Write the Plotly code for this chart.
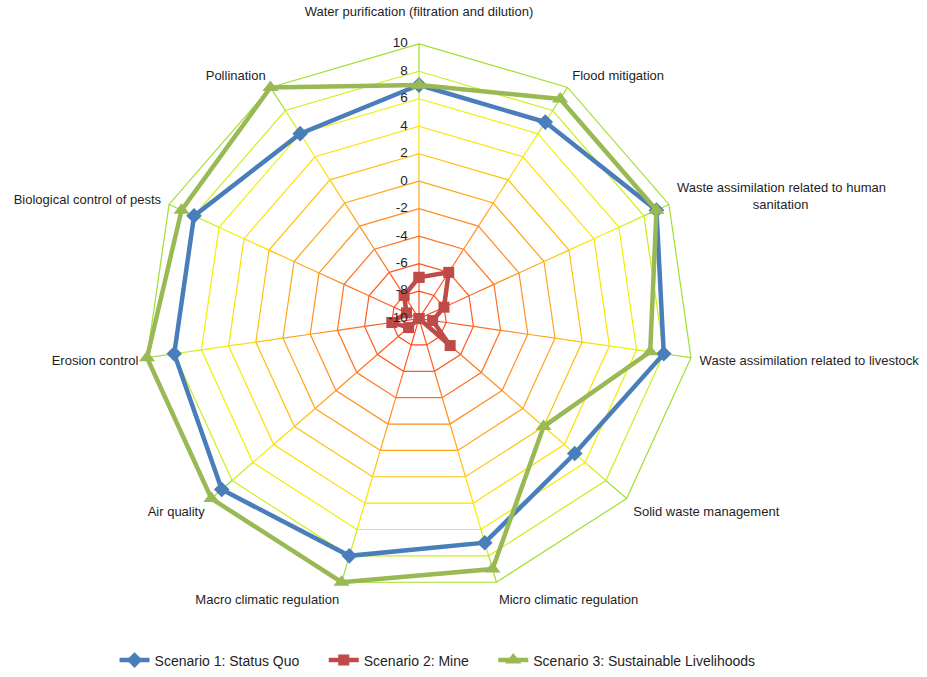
import plotly.graph_objects as go

NBSP = "\u00a0"

# Ecosystem services assessed for each scenario
categories = [
    "Water purification (filtration and dilution)",
    "Flood mitigation",
    "Waste assimilation related to human sanitation",
    "Waste assimilation related to livestock",
    "Solid waste management",
    "Micro climatic regulation",
    "Macro climatic regulation",
    "Air quality",
    "Erosion control",
    "Biological control of pests",
    "Pollination",
]
category_labels = [
    "Water purification (filtration and dilution)<br>" + NBSP,
    "Flood mitigation",
    "Waste assimilation related to human<br>" + NBSP * 21 + "sanitation",
    "Waste assimilation related to livestock",
    "Solid waste management",
    "Micro climatic regulation",
    "Macro climatic regulation",
    "Air quality",
    "Erosion control",
    "Biological control of pests",
    "Pollination",
]

status_quo = [7, 7, 9, 8, 5, 7, 8, 9, 8, 8, 6]
mine = [-7, -6, -8, -9, -7, -10, -10, -9, -8, -9, -8]
sustainable = [7, 9, 9, 7, 2, 9, 10, 10, 10, 9, 10]

radial_ticks = [-10, -8, -6, -4, -2, 0, 2, 4, 6, 8, 10]

# Grid colours run from red at the centre to yellow-green at the rim
level_colors = {
    -8: "#FF4A1C",
    -6: "#FF5B1E",
    -4: "#FF7420",
    -2: "#FF8F1F",
    0: "#FFA51A",
    2: "#FFC20E",
    4: "#FFDF00",
    6: "#F0F000",
    8: "#CDEE1C",
    10: "#A0DF2E",
}

TEXT = "#1E1E1E"

fig = go.Figure()

closed = categories + [categories[0]]

# Polygon rings at each radial tick
for level in radial_ticks[1:]:
    fig.add_trace(go.Scatterpolar(
        r=[level] * len(closed), theta=closed, mode="lines", cliponaxis=True,
        line=dict(color=level_colors[level], width=1.2),
        hoverinfo="skip", showlegend=False,
    ))

# Spokes, split into segments that take the colour of their outer ring
for lo, hi in zip(radial_ticks[:-1], radial_ticks[1:]):
    rs, ts = [], []
    for c in categories:
        rs += [lo, hi, None]
        ts += [c, c, c]
    fig.add_trace(go.Scatterpolar(
        r=rs, theta=ts, mode="lines", connectgaps=False, cliponaxis=True,
        line=dict(color=level_colors[hi], width=1.2),
        hoverinfo="skip", showlegend=False,
    ))

series = [
    ("Scenario 1: Status Quo" + NBSP * 5, status_quo, "#4A7EBB", "diamond", 12),
    ("Scenario 2: Mine" + NBSP * 5, mine, "#BE4B48", "square", 11),
    ("Scenario 3: Sustainable Livelihoods", sustainable, "#98B954", "triangle-up", 14),
]
for name, vals, color, symbol, size in series:
    fig.add_trace(go.Scatterpolar(
        r=vals + [vals[0]], theta=closed, name=name, mode="lines+markers",
        cliponaxis=True,
        line=dict(color=color, width=4.5),
        marker=dict(symbol=symbol, size=size, color=color),
    ))

# Radial tick labels along the upper spoke, to its left
fig.add_trace(go.Scatterpolar(
    r=radial_ticks, theta=[categories[0]] * len(radial_ticks),
    mode="text", text=[f"{v}{NBSP * 3}" for v in radial_ticks],
    textposition="middle left", cliponaxis=True,
    textfont=dict(size=13.5, color=TEXT),
    hoverinfo="skip", showlegend=False,
))

# Radial scale: value 10 sits at R pixels; the axis extends a little
# further so that markers on the outer ring are not clipped.
R = 276
r_max = 10.6
R_ext = R * (r_max + 10) / 20
cx, cy = 419, 320
W, H = 927, 677

fig.update_layout(
    width=W, height=H,
    margin=dict(l=0, r=0, t=0, b=0),
    paper_bgcolor="white",
    font=dict(family="Liberation Sans, Arial, sans-serif", size=13, color=TEXT),
    polar=dict(
        domain=dict(x=[(cx - R_ext) / W, (cx + R_ext) / W],
                    y=[(H - cy - R_ext) / H, (H - cy + R_ext) / H]),
        gridshape="circular",
        bgcolor="white",
        angularaxis=dict(
            type="category", categoryorder="array", categoryarray=categories,
            tickvals=categories, ticktext=category_labels,
            direction="clockwise", rotation=90,
            showgrid=False, showline=False, ticks="",
            tickfont=dict(size=13, color=TEXT),
        ),
        radialaxis=dict(
            range=[-10, r_max], tickvals=radial_ticks,
            angle=90, showticklabels=False,
            showgrid=False, showline=False, ticks="",
        ),
    ),
    legend=dict(
        orientation="h", x=0.472, xanchor="center", y=0.02, yanchor="middle",
        font=dict(size=14, color=TEXT),
    ),
)

fig.write_html("out.html")
